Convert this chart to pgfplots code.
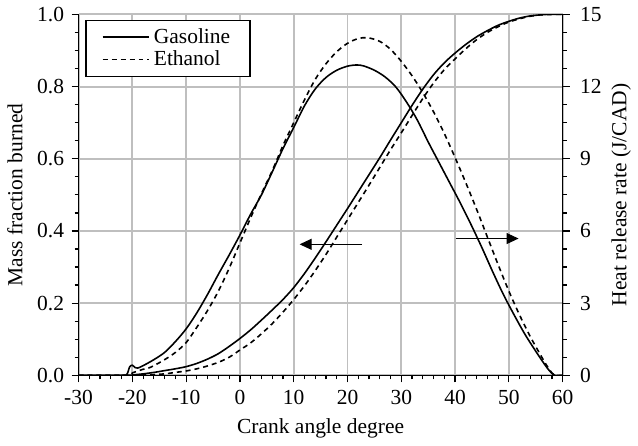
\documentclass[border=0pt]{standalone}
\usepackage{fontspec}
\setmainfont{Liberation Serif}
\usepackage{pgfplots}
\pgfplotsset{compat=1.18}
\usetikzlibrary{arrows.meta}

\pgfplotstableread{
x y
-30 0
-21 0
-20 0.001
-18 0.004
-16 0.008
-14 0.013
-12 0.018
-10 0.024
-8 0.033
-6 0.045
-4 0.06
-2 0.08
0 0.102
2 0.126
4 0.153
6 0.181
8 0.21
10 0.243
12 0.282
14 0.325
16 0.37
18 0.416
20 0.462
22 0.509
24 0.556
26 0.603
28 0.652
30 0.7
32 0.748
34 0.793
36 0.833
38 0.866
40 0.893
42 0.917
44 0.938
46 0.955
48 0.97
50 0.981
52 0.99
54 0.996
56 0.999
57 1.0
60 1.0
}\mfbgas

\pgfplotstableread{
x y
-30 0
-20 0
-18 0.001
-16 0.002
-14 0.004
-12 0.008
-10 0.012
-8 0.018
-6 0.026
-4 0.036
-2 0.05
0 0.07
2 0.09
4 0.115
6 0.143
8 0.175
10 0.21
12 0.248
14 0.29
16 0.335
18 0.383
20 0.431
22 0.479
24 0.527
26 0.576
28 0.625
30 0.672
32 0.72
34 0.767
36 0.81
38 0.847
40 0.877
42 0.905
44 0.93
46 0.95
48 0.966
50 0.979
52 0.988
54 0.995
56 0.999
58 1.0
60 1.0
}\mfbeth

\pgfplotstableread{
x y
-30 0
-22 0
-21 0.05
-20.5 0.35
-20 0.42
-19.5 0.32
-19 0.3
-18 0.4
-16 0.65
-14 0.95
-12 1.4
-10 1.93
-8 2.6
-6 3.37
-4 4.2
-2 5.0
0 5.83
2 6.7
4 7.5
6 8.45
8 9.42
10 10.3
12 11.2
14 11.9
16 12.38
18 12.68
20 12.85
21.7 12.9
23 12.86
25 12.68
27 12.4
29 11.98
31 11.35
33 10.6
35 9.7
37 8.85
39 8.0
41 7.15
43 6.25
45 5.3
47 4.3
49 3.35
51 2.5
53 1.7
55 1.0
56.5 0.5
57.5 0.2
58.5 0
60 0
}\hrrgas

\pgfplotstableread{
x y
-30 0
-21 0
-20 0.1
-18 0.25
-17 0.3
-16 0.4
-14 0.65
-12 0.95
-10 1.36
-8 2.0
-6 2.7
-4 3.5
-2 4.45
0 5.5
2 6.55
4 7.55
6 8.5
8 9.55
10 10.5
12 11.45
14 12.3
16 12.95
18 13.45
20 13.8
22 14.0
23.8 14.03
26 13.88
28 13.55
30 13.05
32 12.45
34 11.75
36 10.95
38 10.05
40 9.05
42 8.0
44 6.9
46 5.75
48 4.6
50 3.5
52 2.5
54 1.6
56 0.8
57 0.42
58 0.1
58.5 0
60 0
}\hrreth

\begin{document}
\fontsize{10.8}{13}\selectfont
\begin{tikzpicture}
\begin{axis}[
  scale only axis, width=243.5pt, height=181.5pt,
  xmin=-30, xmax=60, ymin=0, ymax=1,
  axis y line*=left, axis x line*=bottom,
  axis line style={line width=0.6pt},
  xtick={-30,-20,...,60}, minor x tick num=4,
  ytick={0,0.2,0.4,0.6,0.8,1.0}, minor y tick num=3,
  tick align=outside, major tick length=3.5pt, minor tick length=2pt,
  tick style={black, line width=0.6pt},
  /pgf/number format/assume math mode=true,
  yticklabel style={/pgf/number format/.cd,fixed,fixed zerofill,precision=1},
  grid=major,
  major grid style={draw=black!25, line width=1pt},
  xlabel={Crank angle degree},
  ylabel={Mass fraction burned},
  legend style={at={(0.014,0.986)}, anchor=north west, draw=black, line width=0.7pt,
    font=\fontsize{10.8}{12}\selectfont, inner xsep=8pt, inner ysep=2pt, row sep=-2pt},
  legend cell align=left,
  legend image code/.code={\draw[#1] (0cm,0cm) -- (0.82cm,0cm);},
]
\addplot[black, line width=0.8pt, smooth] table {\mfbgas};
\addlegendentry{Gasoline}
\addplot[black, line width=0.8pt, dash pattern=on 2.5pt off 2pt, smooth] table {\mfbeth};
\addlegendentry{Ethanol}
\draw[black, line width=0.5pt, -{Triangle[length=6pt,width=5.5pt]}] (axis cs:22.7,0.363) -- (axis cs:11.1,0.363);
\draw[black, line width=0.5pt, -{Triangle[length=6pt,width=5.5pt]}] (axis cs:40.1,0.379) -- (axis cs:51.8,0.379);
\end{axis}
\begin{axis}[
  scale only axis, width=243.5pt, height=181.5pt,
  xmin=-30, xmax=60, ymin=0, ymax=15,
  axis y line*=right, axis x line=none,
  axis line style={line width=0.6pt},
  ytick={0,3,...,15}, minor y tick num=3,
  tick align=outside, major tick length=3.5pt, minor tick length=2pt,
  tick style={black, line width=0.6pt},
  /pgf/number format/assume math mode=true,
  yticklabel style={xshift=1.5pt},
  ylabel={Heat release rate (J/CAD)},
  ylabel style={yshift=2.5pt},
]
\addplot[black, line width=0.8pt, smooth] table {\hrrgas};
\addplot[black, line width=0.8pt, dash pattern=on 2.5pt off 2pt, smooth] table {\hrreth};
\end{axis}
\end{tikzpicture}
\end{document}
